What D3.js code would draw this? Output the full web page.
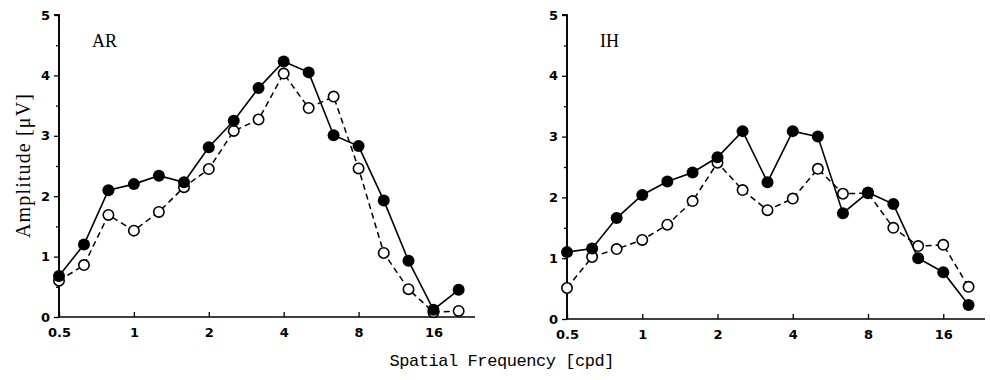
<!DOCTYPE html>
<html><head><meta charset="utf-8">
<script src="https://cdn.jsdelivr.net/npm/d3@7"></script>
<style>body{margin:0;background:#fff}</style>
</head><body>
<svg id="c" width="990" height="380"></svg>
<script>
const freqs = [0.5,0.63,0.79,1,1.26,1.59,2,2.52,3.17,4,5.04,6.35,8,10.1,12.7,16,20.2];
const arFilled = [0.68,1.2,2.1,2.2,2.34,2.23,2.81,3.25,3.79,4.23,4.05,3.01,2.83,1.93,0.93,0.12,0.45];
const arOpen   = [0.6,0.86,1.69,1.43,1.74,2.15,2.45,3.08,3.27,4.03,3.46,3.65,2.46,1.06,0.46,0.08,0.1];
const ihFilled = [1.1,1.16,1.66,2.04,2.26,2.41,2.66,3.09,2.25,3.09,3.0,1.74,2.08,1.89,1.0,0.77,0.23];
const ihOpen   = [0.51,1.02,1.15,1.3,1.55,1.94,2.57,2.12,1.79,1.98,2.47,2.06,2.07,1.5,1.2,1.22,0.53];
const xTicks = [0.5,1,2,4,8,16];
const yTicks = [0,1,2,3,4,5];
const panels = [
  {name:"AR", filled:arFilled, open:arOpen, x0:59, x1:475, y0:317, y1:15},
  {name:"IH", filled:ihFilled, open:ihOpen, x0:567, x1:985, y0:319, y1:15}
];
const svg = d3.select("#c");
panels.forEach(p => {
  const x = d3.scaleLog().domain([0.5, 23.5]).range([p.x0, p.x1]);
  const y = d3.scaleLinear().domain([0,5]).range([p.y0, p.y1]);
  const g = svg.append("g");
  const ya = g.append("g").attr("transform", `translate(${p.x0},0)`)
    .call(d3.axisLeft(y).tickValues(yTicks).tickSize(5).tickPadding(4).tickFormat(d3.format("d")));
  ya.append("g").call(d3.axisLeft(y).tickValues([0.5,1.5,2.5,3.5,4.5]).tickSize(3).tickFormat(""));
  const xa = g.append("g").attr("transform", `translate(0,${p.y0})`)
    .call(d3.axisBottom(x).tickValues(xTicks).tickSize(-5).tickPadding(10).tickFormat(d => d));
  [ya, xa].forEach(a => {
    a.selectAll(".domain").attr("stroke","#000").attr("stroke-width",1.6);
    a.selectAll("line").attr("stroke","#000").attr("stroke-width",1.3);
    a.selectAll("text").attr("font-family","'DejaVu Sans', sans-serif").attr("font-weight","bold")
      .attr("font-size",13).attr("fill","#000");
  });
  ya.selectAll(".domain").attr("d", `M-5,${p.y1}H0V${p.y0}`);
  xa.selectAll(".domain").attr("d", `M${p.x0},0H${p.x1}`);
  xa.selectAll(".tick text").attr("y", 20).attr("dy", 0);
  g.append("text").attr("x", p.x0 + 33).attr("y", 47).text(p.name)
    .attr("font-family","'Liberation Serif', serif").attr("font-size",18).attr("fill","#000");
  const pts = arr => arr.map((v,i) => [freqs[i], v]);
  const line = d3.line().x(d => x(d[0])).y(d => y(d[1]));
  g.append("path").attr("d", line(pts(p.open))).attr("fill","none").attr("stroke","#000")
    .attr("stroke-width",1.5).attr("stroke-dasharray","6,4");
  g.append("path").attr("d", line(pts(p.filled))).attr("fill","none").attr("stroke","#000")
    .attr("stroke-width",1.6);
  g.selectAll(".o").data(pts(p.open)).enter().append("circle")
    .attr("cx", d => x(d[0])).attr("cy", d => y(d[1])).attr("r",5.2)
    .attr("fill","#fff").attr("stroke","#000").attr("stroke-width",1.6);
  g.selectAll(".f").data(pts(p.filled)).enter().append("circle")
    .attr("cx", d => x(d[0])).attr("cy", d => y(d[1])).attr("r",6)
    .attr("fill","#000");
});
svg.append("text").attr("x", 502).attr("y", 366).attr("text-anchor","middle")
  .attr("textLength", 225).attr("lengthAdjust","spacing")
  .text("Spatial Frequency [cpd]")
  .attr("font-family","'Liberation Mono', monospace").attr("font-size",17).attr("fill","#000");
svg.append("text").attr("transform","translate(30,166) rotate(-90)").attr("text-anchor","middle")
  .attr("textLength", 144).attr("lengthAdjust","spacing")
  .text("Amplitude [μV]")
  .attr("font-family","'Liberation Serif', serif").attr("font-size",20).attr("fill","#000");
</script>
</body></html>
